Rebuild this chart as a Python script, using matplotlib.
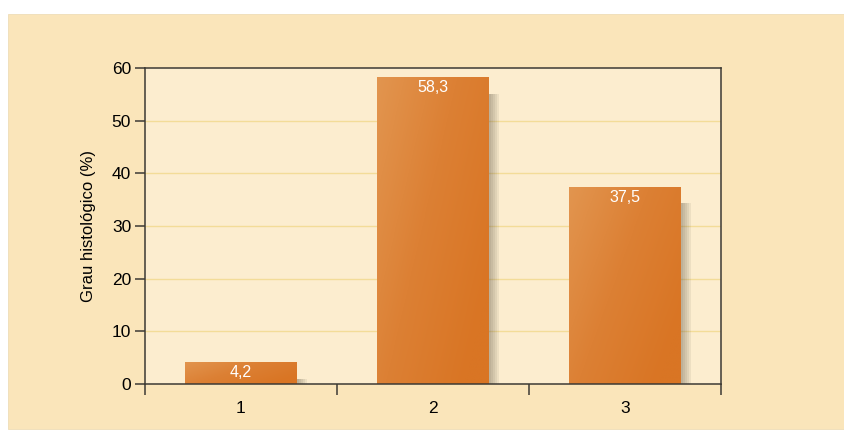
import numpy as np
import matplotlib
matplotlib.use('Agg')
from matplotlib import pyplot as plt
from matplotlib.patches import Rectangle
from matplotlib.colors import LinearSegmentedColormap
import matplotlib.patheffects as pe

plt.rcParams['font.family'] = ['Liberation Sans', 'DejaVu Sans']

# histological grade distribution
grades = [1, 2, 3]
percentages = [4.2, 58.3, 37.5]
value_labels = ['4,2', '58,3', '37,5']
y_ticks = [0, 10, 20, 30, 40, 50, 60]

panel_color = '#FAE5BA'
plot_color = '#FCEDCF'
grid_color = '#F3DC98'
frame_color = '#3C3A34'

fig = plt.figure(figsize=(8.45, 4.3), dpi=100)
fig.patch.set_facecolor('white')
fig.patches.append(Rectangle((8 / 845, 1 / 430), 1, 415 / 430, transform=fig.transFigure,
                             facecolor=panel_color, edgecolor='#EEDDB8', linewidth=0.6, zorder=-5))

ax = fig.add_axes([145 / 845, 46 / 430, 576 / 845, 316 / 430])
ax.set_facecolor(plot_color)

for y in y_ticks[1:-1]:
    ax.axhline(y, color=grid_color, linewidth=1, zorder=1)

# soft shadow to the right of each bar, then a diagonal gradient fill
shadow = [pe.SimplePatchShadow(offset=(dx, -12), shadow_rgbFace='#5a5240', alpha=0.09)
          for dx in (1.5, 3, 4.5, 6, 7.5)]
bars = ax.bar(grades, percentages, width=0.58, color='#DA7A2A', zorder=2,
              path_effects=shadow + [pe.Normal()])

cmap = LinearSegmentedColormap.from_list('bar', ['#E2954F', '#DC8034', '#D97524'])
gx, gy = np.meshgrid(np.linspace(0, 1, 64), np.linspace(0, 1, 64))
grad = np.clip(gx * 0.7 + gy * 0.45, 0, 1)
for bar in bars:
    x0, w, h = bar.get_x(), bar.get_width(), bar.get_height()
    im = ax.imshow(grad, cmap=cmap, extent=(x0, x0 + w, 0, h), origin='upper',
                   aspect='auto', zorder=3, interpolation='bilinear')
    im.set_clip_path(bar)

ax.set_xlim(0.5, 3.5)
ax.set_ylim(0, 60)

for g, v, lab in zip(grades, percentages, value_labels):
    ax.annotate(lab, (g, v), xytext=(0, -2.5), textcoords='offset points',
                ha='center', va='top', color='white', fontsize=11.5, zorder=4)

for side in ['left', 'right', 'top', 'bottom']:
    ax.spines[side].set_color(frame_color)
    ax.spines[side].set_linewidth(1.1)
    ax.spines[side].set_zorder(5)

ax.set_yticks(y_ticks)
ax.tick_params(axis='y', length=7, width=1.1, color=frame_color, labelsize=12.5, pad=3)
ax.set_xticks(grades)
ax.set_xticks([0.5, 1.5, 2.5, 3.5], minor=True)
ax.tick_params(axis='x', which='major', length=0, labelsize=12.5, pad=12)
ax.tick_params(axis='x', which='minor', length=8, width=1.1, color=frame_color)
ax.set_ylabel('Grau histológico (%)', fontsize=12, labelpad=11)

plt.savefig('out.png', dpi=100, facecolor='white')
